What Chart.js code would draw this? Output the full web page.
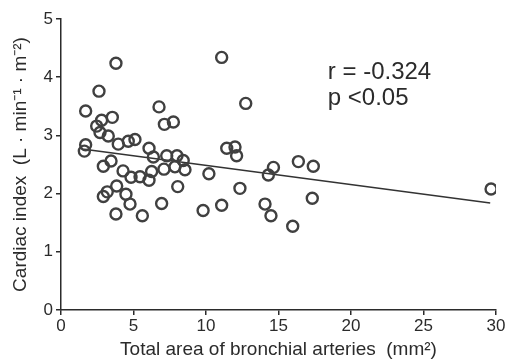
<!DOCTYPE html>
<html>
<head>
<meta charset="utf-8">
<script src="https://cdn.jsdelivr.net/npm/chart.js@4/dist/chart.umd.min.js"></script>
<style>
  html, body { margin: 0; padding: 0; background: #fff; }
  #wrap { width: 508px; height: 361px; }
</style>
</head>
<body>
<div id="wrap"><canvas id="scatterChart" width="508" height="361"></canvas></div>
<script>
// --- DATA ---
const areaValues = [3.79, 11.08, 2.62, 1.70, 6.76, 12.74, 7.13, 7.75, 2.80, 3.54,
    2.46, 2.69, 3.26, 3.95, 4.64, 5.10, 1.70, 1.61, 6.07, 6.37,
    7.29, 8.00, 2.92, 3.45, 4.28, 7.10, 7.86, 8.55, 8.43, 10.20,
    4.83, 5.45, 6.07, 6.25, 8.05, 3.84, 3.19, 2.92, 4.48, 4.76,
    3.79, 5.61, 6.94, 9.80, 11.43, 12.00, 12.11, 16.37, 17.40, 14.65,
    14.30, 12.34, 11.08, 14.07, 14.48, 15.98, 17.33, 29.66];
const cardiacValues = [4.24, 4.34, 3.76, 3.42, 3.49, 3.55, 3.19, 3.23, 3.26, 3.31,
    3.16, 3.05, 2.99, 2.85, 2.90, 2.93, 2.84, 2.73, 2.78, 2.63,
    2.65, 2.65, 2.47, 2.56, 2.39, 2.42, 2.46, 2.41, 2.57, 2.34,
    2.28, 2.29, 2.23, 2.38, 2.12, 2.13, 2.03, 1.95, 1.99, 1.82,
    1.65, 1.62, 1.83, 1.71, 2.78, 2.80, 2.65, 2.55, 2.47, 2.45,
    2.32, 2.09, 1.80, 1.82, 1.62, 1.44, 1.92, 2.08];
const fitX = [1.6, 29.6];
const fitY = [2.76, 1.84];
const xTicks = [0, 5, 10, 15, 20, 25, 30];
const yTicks = [0, 1, 2, 3, 4, 5];
const statLines = ['r = -0.324', 'p <0.05'];
const statAnchor = { x: 18.4, y: [4.09, 3.63] };

const fontFam = "'Liberation Sans', Arial, sans-serif";
const ink = '#2b2b2b';

const points = areaValues.map((v, i) => ({ x: v, y: cardiacValues[i] }));
const fitLine = fitX.map((v, i) => ({ x: v, y: fitY[i] }));

// annotation text (r and p), placed in data coordinates
const statText = {
    id: 'statText',
    afterDatasetsDraw(chart) {
        const c = chart.ctx;
        const xs = chart.scales.x, ys = chart.scales.y;
        c.save();
        c.fillStyle = ink;
        c.font = '24px ' + fontFam;
        c.textBaseline = 'middle';
        c.textAlign = 'left';
        statLines.forEach((t, i) => {
            c.fillText(t, xs.getPixelForValue(statAnchor.x), ys.getPixelForValue(statAnchor.y[i]));
        });
        c.restore();
    }
};

const ctx = document.getElementById('scatterChart').getContext('2d');
const chart = new Chart(ctx, {
    type: 'scatter',
    data: {
        datasets: [
            {
                label: 'Patients',
                data: points,
                pointStyle: 'circle',
                pointRadius: 5.5,
                pointBorderWidth: 2.4,
                borderColor: '#404040',
                backgroundColor: 'rgba(0,0,0,0)',
                pointHoverRadius: 5.5
            },
            {
                label: 'Fit',
                type: 'line',
                data: fitLine,
                borderColor: '#333',
                borderWidth: 1.5,
                pointRadius: 0,
                fill: false
            }
        ]
    },
    options: {
        responsive: false,
        animation: false,
        layout: { padding: { top: 19, right: 12, bottom: 0, left: 0 } },
        plugins: {
            legend: { display: false },
            tooltip: { enabled: false }
        },
        scales: {
            x: {
                type: 'linear',
                min: 0,
                max: 30,
                afterBuildTicks: (s) => { s.ticks = xTicks.map(v => ({ value: v })); },
                afterFit: (s) => { s.height = 51; },
                border: { display: true, color: ink, width: 1.5 },
                grid: { drawOnChartArea: false, drawTicks: true, tickLength: 5, color: ink, lineWidth: 1.5 },
                ticks: { color: ink, padding: 1, maxRotation: 0, font: { family: fontFam, size: 17 } },
                title: {
                    display: true,
                    text: 'Total area of bronchial arteries  (mm\u00B2)',
                    color: ink,
                    padding: { top: 0, bottom: 0 },
                    font: { family: fontFam, size: 19 }
                }
            },
            y: {
                type: 'linear',
                min: 0,
                max: 5,
                afterBuildTicks: (s) => { s.ticks = yTicks.map(v => ({ value: v })); },
                afterFit: (s) => { s.width = 61; },
                border: { display: true, color: ink, width: 1.5 },
                grid: { drawOnChartArea: false, drawTicks: true, tickLength: 5, color: ink, lineWidth: 1.5 },
                ticks: { color: ink, padding: 3, font: { family: fontFam, size: 17 } },
                title: {
                    display: true,
                    text: 'Cardiac index  (L \u00B7 min\u207B\u00B9 \u00B7 m\u207B\u00B2)',
                    color: ink,
                    padding: { top: 9, bottom: 0 },
                    font: { family: fontFam, size: 19 }
                }
            }
        }
    },
    plugins: [statText]
});
</script>
</body>
</html>
